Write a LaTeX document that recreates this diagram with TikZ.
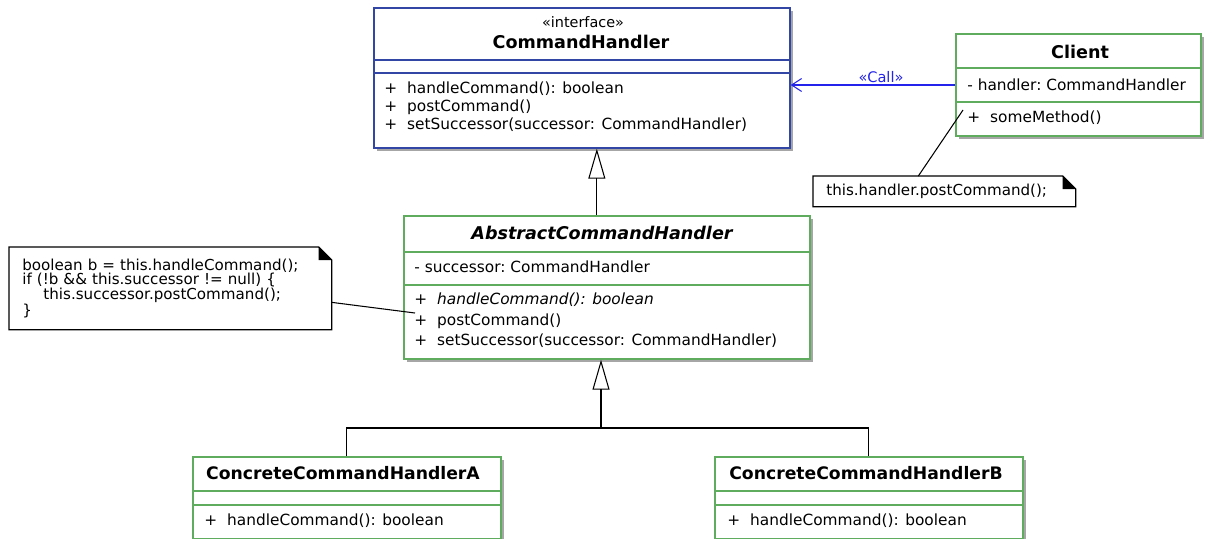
\documentclass[tikz,border=0pt]{standalone}
\usepackage{fontspec}
\setmainfont{DejaVu Sans}
\usetikzlibrary{arrows.meta,shapes,shadows}
\definecolor{ifaceblue}{RGB}{50,70,165}
\definecolor{classgreen}{RGB}{95,172,95}
\definecolor{callblue}{RGB}{35,35,235}
\tikzstyle{umlbox}=[draw,fill=white,anchor=north west,inner sep=0pt,drop shadow={shadow xshift=0.06cm,shadow yshift=-0.06cm,fill=black!50,opacity=0.7}]
\tikzstyle{interface box}=[umlbox,draw=ifaceblue,line width=1pt]
\tikzstyle{class box}=[umlbox,draw=classgreen,line width=1pt]
\tikzstyle{title}=[inner sep=0pt,font=\fontsize{10}{12}\selectfont\bfseries]
\tikzstyle{stereo}=[inner sep=0pt,font=\fontsize{8.2}{9}\selectfont]
\tikzstyle{member}=[anchor=west,inner sep=0pt,font=\fontsize{8.75}{10}\selectfont]
\tikzstyle{note}=[fill=white,anchor=north west,inner xsep=0.26cm,inner ysep=0pt,align=left,font=\fontsize{8.6}{8.2}\selectfont]
\tikzstyle{edge}=[draw,black,line width=0.6pt]
\tikzstyle{inherit}=[edge,-{Triangle[open,length=0.6cm,width=0.34cm]}]
\tikzstyle{call}=[draw=callblue,line width=0.6pt,-{Straight Barb[length=0.2cm,width=0.26cm]}]
\newcommand{\umlplus}{\makebox[13pt][l]{+}}

\begin{document}
\begin{tikzpicture}[x=0.02cm,y=-0.02cm]
    \useasboundingbox (0,0) rectangle (1212,538);
    % First the class boxes
    \node[interface box,minimum width=8.32cm,minimum height=2.8cm] (CommandHandler) at (373,7) {};
    \node[class box,minimum width=4.9cm,minimum height=2.04cm] (Client) at (955,33) {};
    \node[class box,minimum width=8.12cm,minimum height=2.86cm] (AbstractHandler) at (403,215) {};
    \foreach \x/\name in {192/ConcreteA, 714/ConcreteB}
        \node[class box,minimum width=6.16cm,minimum height=1.64cm] (\name) at (\x,456) {};

    % Compartment lines
    \foreach \y in {60,73}
        \draw[ifaceblue,line width=0.7pt] (CommandHandler.west |- 0,\y) -- (CommandHandler.east |- 0,\y);
    \foreach \cls/\ya/\yb in {Client/68/102, AbstractHandler/252/285, ConcreteA/491/505, ConcreteB/491/505}
        \draw[classgreen,line width=0.7pt] (\cls.west |- 0,\ya) -- (\cls.east |- 0,\ya)
            (\cls.west |- 0,\yb) -- (\cls.east |- 0,\yb);

    % Names and members
    \node[stereo] (chStereo) at (583,22) {«interface»};
    \node[title] (chTitle) at (581,42) {CommandHandler};
    \foreach \y/\txt [count=\i] in {89/handleCommand(): boolean, 107/postCommand(), 125/setSuccessor(successor: CommandHandler)}
        \node[member] (chOp\i) at (384,\y) {\umlplus\txt};

    \node[title] (clTitle) at (1080,52) {Client};
    \node[member] (clAttr) at (967,85) {- handler:\ CommandHandler};
    \node[member] (clOp) at (967,118) {\umlplus someMethod()};

    \node[title,font=\fontsize{10}{12}\selectfont\bfseries\itshape] (ahTitle) at (602,233) {AbstractCommandHandler};
    \node[member] (ahAttr) at (414,267) {- successor:\ CommandHandler};
    \foreach \y/\txt [count=\i] in {300/{\itshape handleCommand(): boolean}, 321/postCommand(), 341/setSuccessor(successor: CommandHandler)}
        \node[member] (ahOp\i) at (414,\y) {\umlplus\txt};

    \foreach \x/\name/\tx in {343/A/204, 866/B/727} {
        \node[title,font=\fontsize{9.8}{12}\selectfont\bfseries] (cc\name Title) at (\x,473) {ConcreteCommandHandler\name};
        \node[member] (cc\name Op) at (\tx,521) {\umlplus handleCommand(): boolean};
    }

    % Notes
    \node[note,minimum width=5.24cm,minimum height=0.6cm,text width=4.72cm] (clientNote) at (813,176) {this.handler.postCommand();};
    \node[note,minimum width=6.44cm,minimum height=1.64cm,text width=5.92cm] (abstractNote) at (9,247)
        {boolean b = this.handleCommand();\\ if (!b \&\& this.successor != null) \{\\ \hspace*{12pt}this.successor.postCommand();\\ \}\\[3pt]};
    \foreach \n in {clientNote, abstractNote} {
        \draw[line width=0.7pt] (\n.north west) -- ([xshift=-0.26cm]\n.north east) -- ([yshift=-0.26cm]\n.north east)
            -- (\n.south east) -- (\n.south west) -- cycle;
        \fill ([xshift=-0.26cm]\n.north east) -- ([yshift=-0.26cm]\n.north east) -- ([xshift=-0.26cm,yshift=-0.26cm]\n.north east) -- cycle;
    }

    % Connectors
    \draw[call] (Client.west |- clAttr) -- (CommandHandler.east |- clAttr)
        node[pos=0.45,above=1pt,inner sep=0pt,text=callblue,font=\fontsize{8.3}{9}\selectfont] (callLabel) {«Call»};
    \draw[inherit] ([xshift=-0.2cm]AbstractHandler.north) -- ([xshift=-0.2cm]AbstractHandler.north |- CommandHandler.south);
    \coordinate (fork) at (601,428);
    \path[edge] (ConcreteA.north) |- (fork) -| (ConcreteB.north);
    \draw[inherit] (fork) -- (fork |- AbstractHandler.south);
    \coordinate (someMethodPt) at (963,110);
    \path[edge] ([xshift=-0.52cm]clientNote.north) -- (someMethodPt);
    \coordinate (postCommandPt) at (415,313);
    \path[edge] ([yshift=-0.28cm]abstractNote.east) -- (postCommandPt);
\end{tikzpicture}
\end{document}
